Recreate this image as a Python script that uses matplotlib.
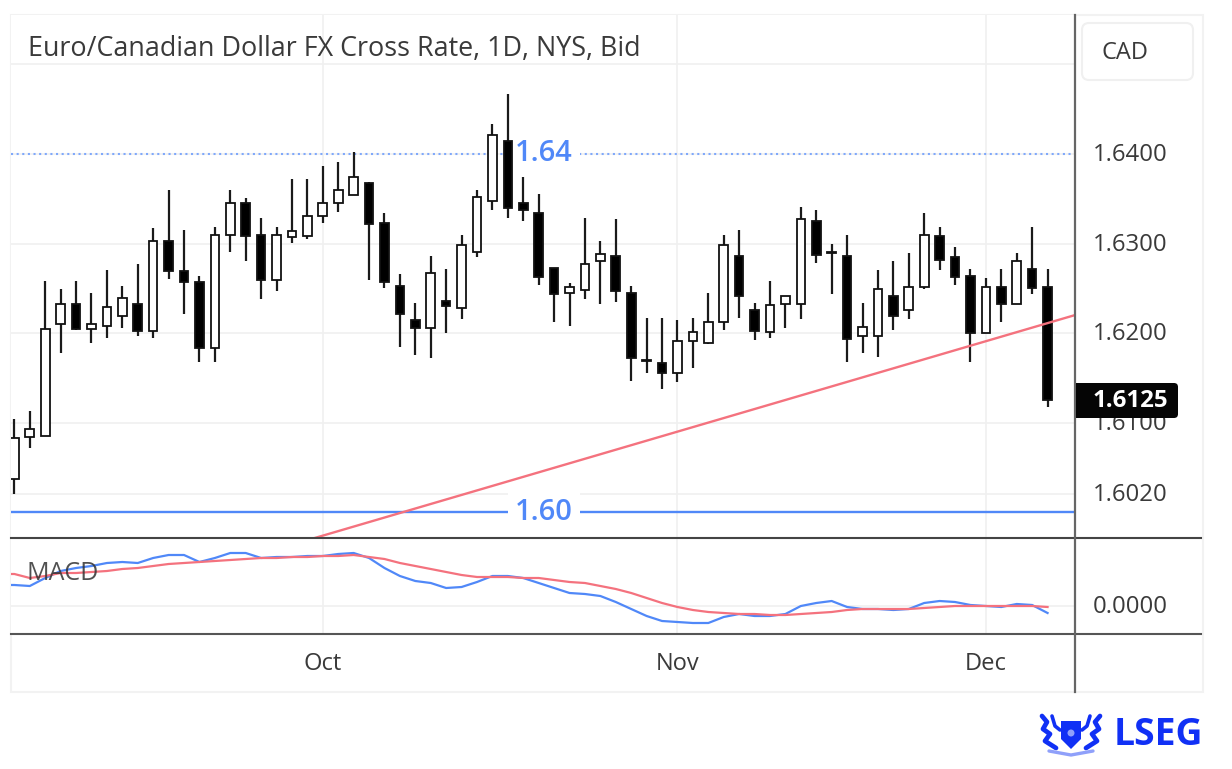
import numpy as np
import matplotlib.pyplot as plt
from matplotlib.patches import FancyBboxPatch, Rectangle, Polygon, Circle

plt.rcParams['font.family'] = ['Open Sans', 'DejaVu Sans']

# daily candles
opens = [1.6037, 1.6084, 1.6085, 1.6210, 1.6233, 1.6205, 1.6208, 1.6219, 1.6233, 1.6202,
         1.6303, 1.6269, 1.6257, 1.6184, 1.6310, 1.6345, 1.6310, 1.6259, 1.6307, 1.6309,
         1.6331, 1.6345, 1.6354, 1.6368, 1.6323, 1.6253, 1.6215, 1.6206, 1.6236, 1.6228,
         1.6291, 1.6347, 1.6415, 1.6345, 1.6334, 1.6273, 1.6245, 1.6248, 1.6280, 1.6286,
         1.6245, 1.6170, 1.6167, 1.6155, 1.6191, 1.6189, 1.6212, 1.6286, 1.6226, 1.6201,
         1.6233, 1.6233, 1.6325, 1.6291, 1.6286, 1.6197, 1.6197, 1.6241, 1.6226, 1.6251,
         1.6308, 1.6285, 1.6264, 1.6200, 1.6251, 1.6233, 1.6272, 1.6251]
closes = [1.6083, 1.6093, 1.6205, 1.6233, 1.6205, 1.6210, 1.6229, 1.6239, 1.6202, 1.6303,
          1.6269, 1.6257, 1.6184, 1.6310, 1.6345, 1.6309, 1.6259, 1.6310, 1.6314, 1.6331,
          1.6345, 1.6360, 1.6374, 1.6322, 1.6257, 1.6221, 1.6206, 1.6267, 1.6230, 1.6298,
          1.6352, 1.6421, 1.6340, 1.6337, 1.6263, 1.6244, 1.6252, 1.6277, 1.6288, 1.6247,
          1.6172, 1.6169, 1.6156, 1.6191, 1.6201, 1.6212, 1.6298, 1.6242, 1.6202, 1.6231,
          1.6241, 1.6327, 1.6287, 1.6289, 1.6193, 1.6207, 1.6249, 1.6219, 1.6251, 1.6310,
          1.6282, 1.6263, 1.6200, 1.6251, 1.6233, 1.6281, 1.6250, 1.6125]
highs = [1.6104, 1.6113, 1.6258, 1.6249, 1.6258, 1.6245, 1.6270, 1.6253, 1.6277, 1.6317,
         1.6360, 1.6315, 1.6264, 1.6319, 1.6360, 1.6351, 1.6329, 1.6319, 1.6372, 1.6372,
         1.6387, 1.6391, 1.6402, 1.6369, 1.6334, 1.6266, 1.6234, 1.6286, 1.6272, 1.6310,
         1.6360, 1.6434, 1.6467, 1.6374, 1.6355, 1.6273, 1.6256, 1.6329, 1.6303, 1.6327,
         1.6253, 1.6217, 1.6217, 1.6215, 1.6217, 1.6245, 1.6310, 1.6315, 1.6234, 1.6258,
         1.6241, 1.6341, 1.6338, 1.6300, 1.6310, 1.6234, 1.6270, 1.6281, 1.6290, 1.6334,
         1.6319, 1.6296, 1.6272, 1.6262, 1.6272, 1.6289, 1.6319, 1.6272]
lows = [1.6021, 1.6072, 1.6085, 1.6178, 1.6204, 1.6189, 1.6195, 1.6206, 1.6197, 1.6195,
        1.6261, 1.6221, 1.6168, 1.6168, 1.6291, 1.6280, 1.6238, 1.6247, 1.6301, 1.6305,
        1.6323, 1.6335, 1.6354, 1.6259, 1.6250, 1.6185, 1.6176, 1.6172, 1.6200, 1.6216,
        1.6285, 1.6337, 1.6329, 1.6325, 1.6254, 1.6213, 1.6208, 1.6238, 1.6233, 1.6235,
        1.6147, 1.6156, 1.6138, 1.6145, 1.6161, 1.6188, 1.6204, 1.6217, 1.6192, 1.6195,
        1.6206, 1.6216, 1.6278, 1.6244, 1.6168, 1.6178, 1.6173, 1.6204, 1.6216, 1.6249,
        1.6270, 1.6254, 1.6168, 1.6200, 1.6213, 1.6233, 1.6244, 1.6118]

# macd lines start one bar before the first visible candle
macd_line = [.00105, .00105, .00100, .00140, .00175, .00190, .00200, .00215, .00220, .00215, .00240,
             .00255, .00255, .00220, .00240, .00265, .00265, .00240, .00245, .00245, .00250,
             .00250, .00260, .00265, .00240, .00190, .00150, .00125, .00115, .00090, .00095,
             .00120, .00150, .00150, .00140, .00115, .00090, .00065, .00060, .00050, .00020,
             -.00015, -.00050, -.00075, -.00080, -.00085, -.00085, -.00055, -.00040, -.00050, -.00050,
             -.00040, .00000, .00015, .00025, -.00005, -.00015, -.00015, -.00020, -.00015, .00015,
             .00025, .00020, .00005, .00000, -.00005, .00010, .00005, -.00035]
signal_line = [.00160, .00160, .00140, .00150, .00165, .00165, .00170, .00175, .00185, .00190, .00200,
               .00210, .00215, .00220, .00225, .00230, .00235, .00240, .00240, .00245, .00245,
               .00250, .00250, .00255, .00245, .00235, .00215, .00200, .00185, .00170, .00155,
               .00145, .00145, .00145, .00140, .00140, .00130, .00120, .00115, .00100, .00085,
               .00065, .00040, .00015, -.00005, -.00020, -.00030, -.00035, -.00040, -.00040, -.00045,
               -.00045, -.00040, -.00035, -.00030, -.00020, -.00015, -.00015, -.00015, -.00015, -.00010,
               -.00005, .00000, .00000, .00000, .00000, .00000, .00000, -.00005]

price_ticks = [1.640, 1.630, 1.620, 1.610, 1.602]
price_grid = [1.650, 1.640, 1.630, 1.620, 1.610, 1.602]
month_pos = [20, 43, 63]
month_names = ['Oct', 'Nov', 'Dec']
trend_x = [19.2, 68.74]
trend_y = [1.5970, 1.6220]
level_hi = 1.64
level_lo = 1.60
last_price = 1.6125

W, H = 1232, 769
BLUE = '#5088f8'
RED = '#f4727e'
TEXT = '#3a3a3a'
GRID = '#f0f0f0'
LOGO = '#1030f5'

def px_axes(x0, y0, x1, y1):
    # axes box given in image pixels, y going down
    return fig.add_axes([x0 / W, 1 - y1 / H, (x1 - x0) / W, (y1 - y0) / H])

fig = plt.figure(figsize=(W / 100, H / 100), dpi=100)
bars = np.arange(len(opens))
xlim = (-0.22, 68.78)
ylim = (1.59714, 1.65551)

ax = px_axes(11, 15, 1075, 538)
ax.set_xlim(xlim)
ax.set_ylim(ylim)
for s in ax.spines.values():
    s.set_visible(False)
ax.set_yticks(price_grid)
ax.set_yticklabels([])
ax.tick_params(length=0, labelbottom=False)
ax.set_xticks(month_pos)
ax.grid(True, color=GRID, lw=1.2)
ax.set_axisbelow(True)

ax.axhline(level_hi, color='#7fa8fb', lw=1.5, ls=(0, (1, 1.7)), zorder=1)
ax.axhline(level_lo, color=BLUE, lw=1.7, zorder=1)
for lv in (level_hi, level_lo):
    ax.text(34.35, lv, '%.2f' % lv, color=BLUE, fontsize=21, weight='semibold', ha='center', va='center',
            zorder=2, bbox=dict(facecolor='white', edgecolor='none', pad=5))

# candles
for i in bars:
    up = closes[i] >= opens[i]
    ax.vlines(i, lows[i], highs[i], color='#1a1a1a', lw=1.6, zorder=3)
    lo, hi = min(opens[i], closes[i]), max(opens[i], closes[i])
    ax.bar(i, hi - lo, bottom=lo, width=0.56, facecolor='white' if up else 'black',
           edgecolor='#111111', lw=1.3, zorder=4)

ax.plot(trend_x, trend_y, color=RED, lw=1.7, zorder=5)

fig.text(28 / W, 1 - 49 / H, 'Euro/Canadian Dollar FX Cross Rate, 1D, NYS, Bid', color=TEXT,
         fontsize=19.4, va='center', ha='left')

# MACD pane
pane = px_axes(11, 538, 1075, 634)
pane.set_xlim(xlim)
pane.set_ylim(-.0014, .0034)
for s in pane.spines.values():
    s.set_visible(False)
pane.set_yticks([0])
pane.set_yticklabels([])
pane.set_xticks(month_pos)
pane.set_xticklabels(month_names, fontsize=17, color=TEXT, weight='medium')
pane.tick_params(length=0, pad=13)
pane.grid(True, color=GRID, lw=1.2)
pane.set_axisbelow(True)
macd_x = np.arange(-1, len(opens))
pane.plot(macd_x, macd_line, color=BLUE, lw=1.6, zorder=3)
pane.plot(macd_x, signal_line, color=RED, lw=1.6, zorder=4)
pane.text(0.015, 0.635, 'MACD', transform=pane.transAxes, color='#333333', fontsize=18,
          va='center', ha='left', zorder=5, alpha=0.85)

# everything around the axes, placed in image pixels
deco = fig.add_axes([0, 0, 1, 1], zorder=-1)
deco.set_xlim(0, W)
deco.set_ylim(H, 0)
deco.axis('off')
deco.add_patch(Rectangle((11, 15), 1192, 677, fill=False, ec='#f2f2f2', lw=1.5))

top = fig.add_axes([0, 0, 1, 1], zorder=10)
top.set_xlim(0, W)
top.set_ylim(H, 0)
top.axis('off')
top.patch.set_alpha(0)
top.plot([11, 1201], [538, 538], color='#444444', lw=1.5)
top.plot([11, 1201], [634, 634], color='#555555', lw=1.5)
top.plot([1075, 1075], [15, 692], color='#666666', lw=1.6)

# price labels
for p in price_ticks:
    yy = 15 + (ylim[1] - p) / (ylim[1] - ylim[0]) * 523 + 1
    top.text(1130, yy, '%.4f' % p, color=TEXT, fontsize=17.3, ha='center', va='center')
top.text(1130, 607, '0.0000', color=TEXT, fontsize=17.3, ha='center', va='center')
top.add_patch(Rectangle((1076, 383), 20, 35, fc='#050505', ec='none', zorder=5))
top.add_patch(FancyBboxPatch((1082, 383), 96, 35, boxstyle='round,pad=0,rounding_size=4',
                             fc='#050505', ec='none', zorder=5))
top.text(1130, 401, '%.4f' % last_price, color='white', fontsize=17.3, weight='bold',
         ha='center', va='center', zorder=6)

top.add_patch(FancyBboxPatch((1086, 27), 103, 49, boxstyle='round,pad=4,rounding_size=7',
                             fc='white', ec='#f0f0f0', lw=1.5))
top.text(1125, 53, 'CAD', color=TEXT, fontsize=17, ha='center', va='center')

# LSEG mark
top.text(1158.5, 735, 'LSEG', color=LOGO, fontsize=26.8, weight='bold', ha='center', va='center')
top.add_patch(Polygon([(1061, 721), (1081, 721), (1081, 739), (1071, 749), (1061, 739)], fc=LOGO, ec='none'))
top.add_patch(Circle((1071, 733), 3.5, fc='#8fa0fa', ec='none'))
for sign in (-1, 1):
    griffin = [(1071 + sign * d, y) for d, y in [(29, 716), (24, 722), (28, 729), (21, 734), (26, 741), (15, 748)]]
    wing = [(1071 + sign * d, y) for d, y in [(19, 716), (16, 726), (11, 730)]]
    top.plot(*zip(*griffin), color=LOGO, lw=3.4, solid_capstyle='round', solid_joinstyle='round')
    top.plot(*zip(*wing), color=LOGO, lw=2.6, solid_capstyle='round', solid_joinstyle='round')
top.plot([1049, 1071, 1093], [751, 755, 751], color='#8fa0fa', lw=2.4, solid_capstyle='round')

fig.savefig('out.png', dpi=100)
